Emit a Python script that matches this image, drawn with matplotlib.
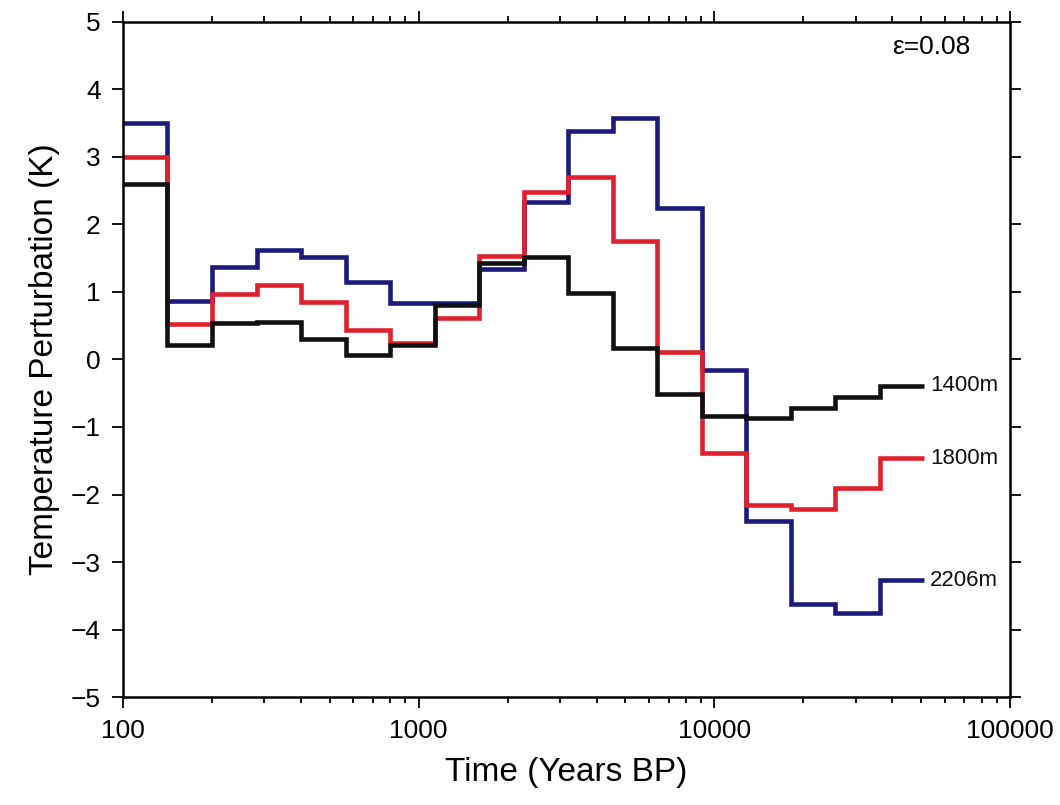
import numpy as np
import matplotlib
matplotlib.use('Agg')
from matplotlib import pyplot as plt
from matplotlib.ticker import FixedLocator, LogLocator, NullFormatter

# bin edges (years BP), factor sqrt(2) apart
edges = [100, 141, 200, 283, 400, 566, 800, 1131, 1600, 2263, 3200, 4525,
         6400, 9051, 12800, 18102, 25600, 36204, 51200]

t_2206 = [3.50, 0.86, 1.37, 1.62, 1.51, 1.15, 0.84, 0.83, 1.34, 2.33, 3.38,
          3.57, 2.24, -0.16, -2.39, -3.62, -3.76, -3.27]
t_1800 = [3.00, 0.52, 0.97, 1.10, 0.85, 0.44, 0.25, 0.62, 1.53, 2.48, 2.70,
          1.75, 0.11, -1.38, -2.15, -2.21, -1.91, -1.46]
t_1400 = [2.60, 0.22, 0.54, 0.55, 0.30, 0.06, 0.22, 0.81, 1.43, 1.52, 0.98,
          0.17, -0.51, -0.84, -0.87, -0.72, -0.55, -0.39]

series = [('2206m', t_2206, '#1c1a7a'),
          ('1800m', t_1800, '#e0202c'),
          ('1400m', t_1400, '#111111')]

x_ticks = [100, 1000, 10000, 100000]
y_ticks = [-5, -4, -3, -2, -1, 0, 1, 2, 3, 4, 5]

plt.rcParams['font.family'] = ['Liberation Sans', 'DejaVu Sans']

fig = plt.figure(figsize=(10.6, 8.05), dpi=100)
ax = fig.add_axes([0.116, 0.134, 0.837, 0.839])

for name, vals, col in series:
    ax.stairs(vals, edges, color=col, linewidth=3.3, baseline=None)
    ax.annotate(name, xy=(edges[-1], vals[-1]), xytext=(4, 0),
                textcoords='offset points', va='center', ha='left',
                fontsize=16, color='#111111')

ax.set_xscale('log')
ax.set_xlim(100, 100000)
ax.set_ylim(-5, 5)
ax.xaxis.set_major_locator(FixedLocator(x_ticks))
ax.set_xticklabels([str(v) for v in x_ticks])
ax.xaxis.set_minor_locator(LogLocator(base=10, subs=np.arange(2, 10)))
ax.xaxis.set_minor_formatter(NullFormatter())
ax.set_yticks(y_ticks)
ax.set_yticklabels([str(v).replace('-', '\u2212') for v in y_ticks])

ax.tick_params(which='both', direction='out', top=True, right=True,
               labelsize=19, width=1.3)
ax.tick_params(which='major', length=8, pad=8)
ax.tick_params(which='minor', length=4)
for sp in ax.spines.values():
    sp.set_linewidth(1.8)

ax.set_xlabel('Time (Years BP)', fontsize=24, labelpad=10)
ax.set_ylabel('Temperature Perturbation (K)', fontsize=24, labelpad=8)
ax.text(0.955, 0.962, '\u03b5=0.08', transform=ax.transAxes, ha='right',
        va='center', fontsize=19)

fig.savefig('out.png', dpi=100)
